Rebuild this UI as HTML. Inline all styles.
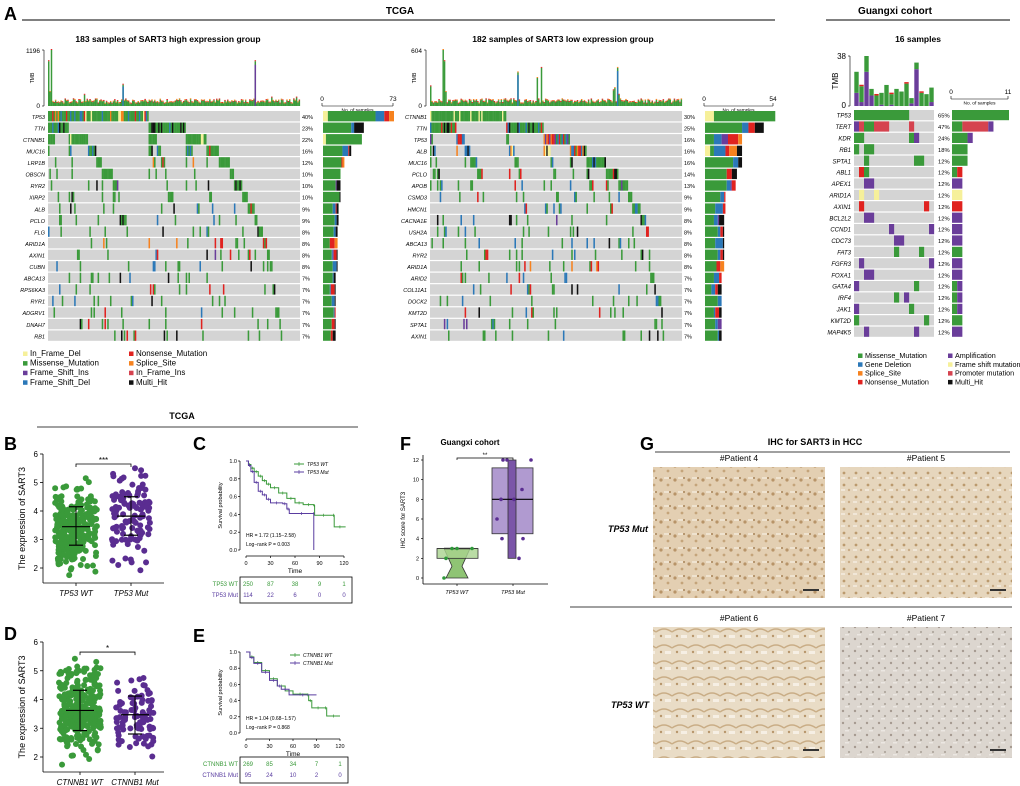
<!DOCTYPE html>
<html><head><meta charset="utf-8">
<style>
body{margin:0;background:#fff;}
svg{display:block;font-family:"Liberation Sans",sans-serif;}
</style></head>
<body>
<svg id="fig" width="1020" height="786" viewBox="0 0 1020 786" xmlns="http://www.w3.org/2000/svg">
<defs>
<pattern id="tis1" width="14" height="14" patternUnits="userSpaceOnUse"><rect width="14" height="14" fill="#e3cfb2"/><circle cx="3" cy="4" r="1.6" fill="#b89468"/><circle cx="10" cy="9" r="1.4" fill="#c4a47a"/><rect x="6" y="1" width="5" height="2" fill="#efe3d0"/><circle cx="12" cy="2" r="1" fill="#a88458"/></pattern>
<pattern id="tis2" width="12" height="12" patternUnits="userSpaceOnUse"><rect width="12" height="12" fill="#e6d6bd"/><circle cx="4" cy="5" r="1.4" fill="#bb9a6e"/><circle cx="9" cy="10" r="1.2" fill="#c9ab85"/><rect x="1" y="9" width="4" height="2" fill="#f1e7d8"/></pattern>
<pattern id="tis3" width="16" height="16" patternUnits="userSpaceOnUse"><rect width="16" height="16" fill="#e9dcc6"/><path d="M0 8 Q8 2 16 8" stroke="#c9ad86" stroke-width="1.5" fill="none"/><circle cx="5" cy="12" r="1.2" fill="#b7966c"/><rect x="9" y="11" width="6" height="3" fill="#f6efe4"/></pattern>
<pattern id="tis4" width="12" height="12" patternUnits="userSpaceOnUse"><rect width="12" height="12" fill="#dcd6cf"/><circle cx="3" cy="3" r="1.2" fill="#a59a90"/><circle cx="9" cy="8" r="1.1" fill="#b0a79e"/><rect x="5" y="10" width="4" height="1.5" fill="#ebe7e2"/></pattern>
</defs>
</svg>
<script>
// ---------------- DATA ----------------
const p1Genes=["TP53","TTN","CTNNB1","MUC16","LRP1B","OBSCN","RYR2","XIRP2","ALB","PCLO","FLG","ARID1A","AXIN1","CUBN","ABCA13","RPS6KA3","RYR1","ADGRV1","DNAH7","RB1"];
const p1Pct=[40,23,22,16,12,10,10,10,9,9,8,8,8,8,7,7,7,7,7,7];
const p1Mix=["yggggggggggggggbbrrog","ggggggggggggkkb","gggggggggggggggy","ggggggggkbr","gggggggggro","gggggggggk","ggggggggkp","gggggggggk","ggggggbkr","gggggggkb","gggggggkbr","ggggbrro","ggggrbkp","ggggggbk","gggggkbr","ggggrrbk","gggggbk","ggggggbr","gggggkr","ggggrrkb"];
const p1Spikes=[[0,0.8,"g"],[1,0.25,"g"],[2,1.0,"g"],[26,0.2,"g"],[54,0.38,"b"],[150,0.8,"p"],[162,0.15,"g"],[180,0.15,"g"]];
const p2Genes=["CTNNB1","TTN","TP53","ALB","MUC16","PCLO","APOB","CSMD3","HMCN1","CACNA1E","USH2A","ABCA13","RYR2","ARID1A","ARID2","COL11A1","DOCK2","KMT2D","SPTA1","AXIN1"];
const p2Pct=[30,25,16,16,16,14,13,9,9,8,8,8,8,8,7,7,7,7,7,7];
const p2Mix=["ggggggggggggggggggggy","gggggggggggbrkk","gggbboorrp","gbbboorykk","gggggggggbrk","gggggrkk","gggbbrpp","ggggggbkr","gggggbbr","ggggkbpr","gggggbkr","ggggbbk","gggggrkb","ggggbrro","gggrrbk","ggggbkr","gggggbk","ggggbkr","gggggbp","ggggrbk"];
const p2Spikes=[[0,0.35,"g"],[9,1.0,"g"],[10,0.8,"g"],[11,0.25,"g"],[63,0.6,"b"],[77,0.5,"g"],[80,0.68,"g"],[132,0.28,"g"],[133,0.32,"g"],[135,0.68,"b"],[136,0.2,"g"]];
const gGenes=["TP53","TERT","KDR","RB1","SPTA1","ABL1","APEX1","ARID1A","AXIN1","BCL2L2","CCND1","CDC73","FAT3","FGFR3","FOXA1","GATA4","IRF4","JAK1","KMT2D","MAP4K5"];
const gPct=[65,47,24,18,12,12,12,12,12,12,12,12,12,12,12,12,12,12,12,12];
const gCells=["ggggggggggg.....","pPggPPP....P....","gg.........gp...","g.gg............","..g.........gg..",".rg.............","..pp............",".y..y...........",".r............r.","..pp............",".......p.......p","........pp......","........g....g..",".p.............p","..pp............","p...........g...","........g.p.....","p..........g....","g.............g.","..p.........p..."];
const gTmbPurple=[10,3,26,8,0,1,0,1,0,0,0,2,28,0,0,3];
const gTmbGreen=[16,12,12,5,8,9,16,8,13,11,17,4,5,10,9,11];
const bWT={n:250,mean:3.45,sd:0.62,min:1.75,max:5.15,err:[2.8,4.15]};
const bMut={n:114,mean:3.82,sd:0.68,min:1.7,max:5.5,err:[3.15,4.5]};
const dWT={n:269,mean:3.62,sd:0.68,min:1.7,max:5.5,err:[2.92,4.32]};
const dMut={n:95,mean:3.47,sd:0.62,min:1.75,max:4.75,err:[2.8,4.12]};
const kmC_WT=[[0,1],[3,0.96],[6,0.92],[10,0.88],[15,0.83],[20,0.78],[25,0.74],[30,0.7],[40,0.64],[50,0.58],[60,0.53],[70,0.51],[83,0.5],[84,0.39],[106,0.39],[108,0.26],[122,0.26]];
const kmC_Mut=[[0,1],[3,0.95],[6,0.88],[10,0.76],[15,0.66],[20,0.62],[25,0.57],[30,0.53],[45,0.52],[50,0.46],[53,0.41],[83,0.41],[83,0]];
const kmE_WT=[[0,1],[5,0.94],[10,0.87],[20,0.77],[30,0.67],[40,0.58],[50,0.52],[60,0.48],[78,0.47],[80,0.4],[84,0.31],[100,0.31],[103,0.21],[120,0.21]];
const kmE_Mut=[[0,1],[5,0.93],[10,0.86],[20,0.75],[30,0.65],[40,0.58],[45,0.54],[55,0.47],[90,0.47]];
const riskC=[["TP53 WT",[250,87,38,9,1]],["TP53 Mut",[114,22,6,0,0]]];
const riskE=[["CTNNB1 WT",[269,85,34,7,1]],["CTNNB1 Mut",[95,24,10,2,0]]];
const fWT=[0,2,3,3,3];
const fMut=[12,12,12,9,8,8,6,4,4,2];

// ---------------- HELPERS ----------------
const NS="http://www.w3.org/2000/svg";
const svg=document.getElementById("fig");
function el(tag,attrs,parent,txt){const e=document.createElementNS(NS,tag);for(const k in attrs)e.setAttribute(k,attrs[k]);if(txt!==undefined)e.textContent=txt;(parent||svg).appendChild(e);return e;}
function grp(name){const g=el("g",{});return g;}
const COL={g:"#3a9a3a",b:"#2b78b8",r:"#e0221f",o:"#f6821f",k:"#111",p:"#6a3d9a",y:"#f6f09a",P:"#d5434f"};
function hash(a,b){let h=(a*374761393+b*668265263)|0;h=(h^(h>>>13))*1274126177|0;h^=h>>>16;return ((h>>>0)%10000)/10000;}
function text(p,x,y,s,opt){const e=el("text",Object.assign({x:x,y:y,"font-size":opt&&opt.fs||8,fill:opt&&opt.fill||"#000"},opt&&opt.a||{}),p,s);return e;}

// ---------------- HEADERS ----------------
const hdr=grp("panel-a-header");
text(hdr,4,20,"A",{fs:18,a:{"font-weight":"bold"}});
text(hdr,400,14,"TCGA",{fs:10,a:{"font-weight":"bold","text-anchor":"middle"}});
el("line",{x1:22,y1:20,x2:775,y2:20,stroke:"#000","stroke-width":1},hdr);
text(hdr,895,14,"Guangxi cohort",{fs:10,a:{"font-weight":"bold","text-anchor":"middle"}});
el("line",{x1:826,y1:20,x2:1010,y2:20,stroke:"#000","stroke-width":1},hdr);

// ---------------- ONCOPLOTS ----------------
function onco(cfg){
  const g=grp(cfg.name);
  text(g,cfg.tx,42,cfg.title,{fs:8.5,a:{"font-weight":"bold","text-anchor":"middle"}});
  const n=cfg.N,w=(cfg.x1-cfg.x0)/n;
  el("line",{x1:cfg.x0-4,y1:cfg.ty0,x2:cfg.x0-4,y2:cfg.ty1,stroke:"#000","stroke-width":0.6},g);
  el("line",{x1:cfg.x0-6,y1:cfg.ty0,x2:cfg.x0-4,y2:cfg.ty0,stroke:"#000","stroke-width":0.6},g);
  el("line",{x1:cfg.x0-6,y1:cfg.ty1,x2:cfg.x0-4,y2:cfg.ty1,stroke:"#000","stroke-width":0.6},g);
  text(g,cfg.x0-8,cfg.ty0+3,cfg.tmbMax,{fs:cfg.tfs||6.5,a:{"text-anchor":"end"}});
  text(g,cfg.x0-8,cfg.ty1+2,"0",{fs:cfg.tfs||6.5,a:{"text-anchor":"end"}});
  text(g,0,0,"TMB",{fs:cfg.tfs?8:5,a:{"text-anchor":"middle",transform:`translate(${cfg.x0-(cfg.tfs?16:14)},${(cfg.ty0+cfg.ty1)/2}) rotate(-90)`}});
  const H=cfg.ty1-cfg.ty0;
  if(cfg.tmb){
    for(let i=0;i<n;i++){
      let y=cfg.ty1;
      [["p",cfg.tmb.p[i]],["g",cfg.tmb.g[i]]].forEach(([c,v])=>{const h=v/cfg.tmbMax*H;if(h>0){el("rect",{x:cfg.x0+i*w+0.3,y:y-h,width:w-0.6,height:h,fill:COL[c]},g);y-=h;}});
      if(i%3==1)el("rect",{x:cfg.x0+i*w+0.3,y:y-1.5,width:w-0.6,height:1.5,fill:COL.r},g);
    }
  } else {
    const sp={};cfg.spikes.forEach(s=>sp[s[0]]=s);
    for(let i=0;i<n;i++){
      let v=0.04+0.08*hash(i,cfg.seed),c="g";
      if(sp[i]){v=sp[i][1];c=sp[i][2];}
      const h=v*H;
      el("rect",{x:cfg.x0+i*w,y:cfg.ty1-h,width:w+0.1,height:h,fill:COL.g},g);
      if(c!="g")el("rect",{x:cfg.x0+i*w,y:cfg.ty1-h*0.92,width:w+0.1,height:h*0.92,fill:COL[c]},g);
      el("rect",{x:cfg.x0+i*w,y:cfg.ty1-h-1,width:w+0.1,height:1,fill:i%2?COL.o:COL.r},g);
    }
  }
  el("line",{x1:cfg.b0,y1:cfg.by,x2:cfg.b1,y2:cfg.by,stroke:"#000","stroke-width":0.6},g);
  el("line",{x1:cfg.b0,y1:cfg.by,x2:cfg.b0,y2:cfg.by-3,stroke:"#000","stroke-width":0.6},g);
  el("line",{x1:cfg.b1,y1:cfg.by,x2:cfg.b1,y2:cfg.by-3,stroke:"#000","stroke-width":0.6},g);
  text(g,cfg.b0,cfg.by-5,"0",{fs:6.5,a:{"text-anchor":"middle"}});
  text(g,cfg.b1,cfg.by-5,cfg.bmax,{fs:6.5,a:{"text-anchor":"middle"}});
  text(g,(cfg.b0+cfg.b1)/2,cfg.by+5.5,"No. of samples",{fs:4.8,a:{"text-anchor":"middle"}});
  const bs=(cfg.b1-cfg.b0)/cfg.bmax;
  // build membership and waterfall order
  let rowsCells=[];
  if(cfg.cells){
    rowsCells=cfg.genes.map((gn,ri)=>{const c=[];for(let i=0;i<n;i++){const ch=cfg.cells[ri][i];if(ch!=".")c.push([i,ch]);}return c;});
  } else {
    const M=cfg.genes.map((gn,ri)=>{
      const k=Math.round(cfg.pct[ri]/100*n);
      const sc=[];for(let i=0;i<n;i++)sc.push([hash(i*7+ri*3,ri*13+cfg.seed),i]);
      sc.sort((a,b)=>a[0]-b[0]);
      const s=new Set();for(let j=0;j<k;j++)s.add(sc[j][1]);return s;
    });
    const cols=[];for(let i=0;i<n;i++)cols.push(i);
    cols.sort((a,b)=>{for(let r=0;r<M.length;r++){const x=M[r].has(a),y=M[r].has(b);if(x!==y)return x?-1:1;}return a-b;});
    rowsCells=cfg.genes.map((gn,ri)=>{const c=[];let j=0;cols.forEach((s,pos)=>{if(M[ri].has(s)){c.push([pos,cfg.mix[ri][Math.floor(hash(s,ri+5)*cfg.mix[ri].length)]]);j++;}});return c;});
  }
  cfg.genes.forEach((gn,ri)=>{
    const y=cfg.gy0+ri*cfg.rp,rh=cfg.rp-1.2;
    const row=grp("oncoplot-row-"+gn.toLowerCase());g.appendChild(row);
    el("rect",{x:cfg.x0,y:y,width:cfg.x1-cfg.x0,height:rh,fill:"#d4d4d4"},row);
    text(row,cfg.x0-3,y+rh-2.5,gn,{fs:cfg.gfs||5.5,a:{"text-anchor":"end","font-style":"italic"}});
    text(row,cfg.x1+(cfg.pdx||2),y+rh-2.5,cfg.pct[ri]+"%",{fs:cfg.gfs?5.8:5.5});
    const cells=rowsCells[ri];
    cells.forEach(([i,ch])=>{el("rect",{x:cfg.x0+i*w,y:y,width:w+0.15,height:rh,fill:COL[ch]},row);});
    const counts={};cells.forEach(([i,ch])=>counts[ch]=(counts[ch]||0)+1);
    let bx=cfg.b0+1;
    ["y","g","b","P","p","r","o","k"].forEach(ch=>{if(counts[ch]){const bw=counts[ch]*bs;el("rect",{x:bx,y:y,width:bw,height:rh,fill:COL[ch]},row);bx+=bw;}});
  });
  return g;
}
onco({name:"oncoplot-high-expression",title:"183 samples of SART3 high expression group",tx:168,N:183,x0:48,x1:300,ty0:50,ty1:106,tmbMax:"1196",spikes:p1Spikes,seed:3,
  b0:322,b1:393,by:106,bmax:"73",genes:p1Genes,pct:p1Pct,mix:p1Mix,gy0:111,rp:11.55});
onco({name:"oncoplot-low-expression",title:"182 samples of SART3 low expression group",tx:563,N:182,x0:430,x1:682,ty0:50,ty1:106,tmbMax:"604",spikes:p2Spikes,seed:9,
  b0:704,b1:773,by:106,bmax:"54",genes:p2Genes,pct:p2Pct,mix:p2Mix,gy0:111,rp:11.55});
onco({name:"oncoplot-guangxi",title:"16 samples",tx:918,N:16,x0:854,x1:934,ty0:56,ty1:106,tmbMax:"38",tfs:8,tmb:{p:gTmbPurple,g:gTmbGreen},
  b0:951,b1:1008,by:99,bmax:"11",genes:gGenes,pct:gPct,cells:gCells,gy0:110,rp:11.4,gfs:6,pdx:4});
svg.querySelectorAll("text").forEach(t=>{if(t.textContent=="16 samples"){t.setAttribute("x",918);t.setAttribute("y",42);}});

function legend(name,items,x0,y0,dx,dy,fs){
  const g=grp(name);
  items.forEach((it,i)=>{const x=x0+Math.floor(i/4)*dx,y=y0+(i%4)*dy;
    const e=grp("legend-entry-"+it[0].toLowerCase().replace(/[^a-z]+/g,"-"));g.appendChild(e);
    el("rect",{x:x,y:y-4.5,width:4.5,height:4.5,fill:it[1]},e);text(e,x+7,y,it[0],{fs:fs});});
}
legend("legend-tcga",[["In_Frame_Del",COL.y],["Missense_Mutation",COL.g],["Frame_Shift_Ins",COL.p],["Frame_Shift_Del",COL.b],["Nonsense_Mutation",COL.r],["Splice_Site",COL.o],["In_Frame_Ins","#d5434f"],["Multi_Hit",COL.k]],23,356,106,9.6,8);
legend("legend-guangxi",[["Missense_Mutation",COL.g],["Gene Deletion",COL.b],["Splice_Site",COL.o],["Nonsense_Mutation",COL.r],["Amplification",COL.p],["Frame shift mutation",COL.y],["Promoter mutation",COL.P],["Multi_Hit",COL.k]],858,358,90,8.8,7.2);

// ---------------- B / D scatter ----------------
const tc=grp("tcga-lower-header");
text(tc,182,419,"TCGA",{fs:9,a:{"font-weight":"bold","text-anchor":"middle"}});
el("line",{x1:37,y1:427,x2:358,y2:427,stroke:"#000","stroke-width":0.8},tc);
function scatter(name,label,ly,y6,y2,yAxBot,xs,groups,cols,cats,sig){
  const g=grp(name);
  text(g,4,ly,label,{fs:18,a:{"font-weight":"bold"}});
  const ax=43;const ys=v=>y2-(v-2)*(y2-y6)/4;
  el("line",{x1:ax,y1:y6,x2:ax,y2:yAxBot,stroke:"#000","stroke-width":0.8},g);
  el("line",{x1:ax,y1:yAxBot,x2:164,y2:yAxBot,stroke:"#000","stroke-width":0.8},g);
  [2,3,4,5,6].forEach(v=>{el("line",{x1:ax-3,y1:ys(v),x2:ax,y2:ys(v),stroke:"#000","stroke-width":0.8},g);text(g,ax-5,ys(v)+3,String(v),{fs:8,a:{"text-anchor":"end"}});});
  text(g,0,0,"The expression of SART3",{fs:9,a:{"text-anchor":"middle",transform:`translate(25,${(y6+yAxBot)/2}) rotate(-90)`}});
  groups.forEach((G,gi)=>{
    const cx=xs[gi];
    el("line",{x1:cx,y1:yAxBot,x2:cx,y2:yAxBot+3,stroke:"#000","stroke-width":0.8},g);
    text(g,cx,yAxBot+13,cats[gi],{fs:8,a:{"text-anchor":"middle","font-style":"italic"}});
    for(let i=0;i<G.n;i++){
      let z=(hash(i,gi*31+ly)+hash(i+500,gi*17+ly)+hash(i+900,gi*7+ly)-1.5)*2.2;
      let v=Math.max(G.min,Math.min(G.max,G.mean+z*G.sd));
      const jx=(hash(i+77,gi+ly)-0.5)*(G.n>200?42:38);
      el("circle",{cx:cx+jx,cy:ys(v),r:3,fill:cols[gi]},g);
    }
    el("line",{x1:cx,y1:ys(G.err[0]),x2:cx,y2:ys(G.err[1]),stroke:"#000","stroke-width":1},g);
    [[G.err[0],7],[G.err[1],7],[G.mean,14]].forEach(([v,hw])=>el("line",{x1:cx-hw,y1:ys(v),x2:cx+hw,y2:ys(v),stroke:"#000","stroke-width":1.2},g));
  });
  const sy=ys(5.65);
  el("path",{d:`M${xs[0]} ${sy+3}V${sy}H${xs[1]}V${sy+3}`,stroke:"#000","stroke-width":0.8,fill:"none"},g);
  text(g,(xs[0]+xs[1])/2,sy-1,sig,{fs:8,a:{"text-anchor":"middle"}});
}
scatter("panel-b-tp53-expression","B",450,454,568,583,[76,131],[bWT,bMut],["#3a9a3a","#5a2d91"],["TP53 WT","TP53 Mut"],"***");
scatter("panel-d-ctnnb1-expression","D",640,642,757,772,[80,135],[dWT,dMut],["#3a9a3a","#5a2d91"],["CTNNB1 WT","CTNNB1 Mut"],"*");

// ---------------- C / E KM ----------------
function km(name,label,ly,x0,x1,y1,y0,curves,names,hr,risk,boxY){
  const g=grp(name);
  text(g,193,ly,label,{fs:18,a:{"font-weight":"bold"}});
  const xs=t=>x0+t/120*(x1-x0),ys=s=>y0-s*(y0-y1);
  const ax=x0-6;
  el("line",{x1:ax,y1:y1,x2:ax,y2:y0,stroke:"#000","stroke-width":0.7},g);
  el("line",{x1:x0,y1:y0+6,x2:x1,y2:y0+6,stroke:"#000","stroke-width":0.7},g);
  [0,0.2,0.4,0.6,0.8,1.0].forEach(v=>{el("line",{x1:ax-2,y1:ys(v),x2:ax,y2:ys(v),stroke:"#000","stroke-width":0.7},g);text(g,ax-3,ys(v)+2,v.toFixed(1),{fs:5.5,a:{"text-anchor":"end"}});});
  [0,30,60,90,120].forEach(v=>{el("line",{x1:xs(v),y1:y0+6,x2:xs(v),y2:y0+8,stroke:"#000","stroke-width":0.7},g);text(g,xs(v),y0+15,String(v),{fs:5.5,a:{"text-anchor":"middle"}});});
  text(g,(x0+x1)/2,y0+23,"Time",{fs:6.5,a:{"text-anchor":"middle"}});
  text(g,0,0,"Survival probability",{fs:5.5,a:{"text-anchor":"middle",transform:`translate(${ax-18},${(y0+y1)/2}) rotate(-90)`}});
  const cols=["#3a9a3a","#5a3da0"];
  curves.forEach((c,ci)=>{
    let d=`M${xs(c[0][0])} ${ys(c[0][1])}`;
    for(let i=1;i<c.length;i++){d+=`H${xs(c[i][0])}V${ys(c[i][1])}`;}
    el("path",{d:d,stroke:cols[ci],"stroke-width":1,fill:"none"},g);
    for(let i=1;i<c.length-1;i++){const t=(c[i][0]+c[i+1][0])/2;el("line",{x1:xs(t),y1:ys(c[i][1])-1.5,x2:xs(t),y2:ys(c[i][1])+1.5,stroke:cols[ci],"stroke-width":0.7},g);}
    const ly2=y1+3+ci*8;
    el("line",{x1:x1-50,y1:ly2,x2:x1-40,y2:ly2,stroke:cols[ci],"stroke-width":1},g);
    el("line",{x1:x1-45,y1:ly2-2,x2:x1-45,y2:ly2+2,stroke:cols[ci],"stroke-width":0.7},g);
    text(g,x1-37,ly2+2,names[ci],{fs:5,a:{"font-style":"italic"}});
  });
  text(g,x0,y0-13,hr[0],{fs:5});text(g,x0,y0-4,hr[1],{fs:5});
  el("rect",{x:x0-6,y:boxY,width:x1-x0+14,height:26,fill:"none",stroke:"#000","stroke-width":0.8},g);
  risk.forEach((r,ri)=>{const y=boxY+9+ri*11;
    text(g,x0-8,y,r[0],{fs:6,fill:cols[ri],a:{"text-anchor":"end"}});
    r[1].forEach((v,vi)=>text(g,xs(vi*30)+(vi==0?2:0),y,String(v),{fs:6,fill:cols[ri],a:{"text-anchor":"middle"}}));
  });
}
km("panel-c-km-tp53","C",450,246,344,461,550,[kmC_WT,kmC_Mut],["TP53 WT","TP53 Mut"],["HR = 1.72 (1.15−2.58)","Log−rank P = 0.003"],riskC,577);
km("panel-e-km-ctnnb1","E",642,246,340,652,733,[kmE_WT,kmE_Mut],["CTNNB1 WT","CTNNB1 Mut"],["HR = 1.04 (0.68−1.57)","Log−rank P = 0.868"],riskE,757);

// ---------------- F box ----------------
(function(){
  const g=grp("panel-f-ihc-boxplot");
  text(g,400,450,"F",{fs:18,a:{"font-weight":"bold"}});
  text(g,470,445,"Guangxi cohort",{fs:8,a:{"font-weight":"bold","text-anchor":"middle"}});
  const ys=v=>578-v*(578-460)/12,ax=423;
  el("line",{x1:ax,y1:455,x2:ax,y2:584,stroke:"#000","stroke-width":0.8},g);
  el("line",{x1:ax,y1:584,x2:548,y2:584,stroke:"#000","stroke-width":0.8},g);
  [0,2,4,6,8,10,12].forEach(v=>{el("line",{x1:ax-2,y1:ys(v),x2:ax,y2:ys(v),stroke:"#000","stroke-width":0.7},g);text(g,ax-4,ys(v)+2,String(v),{fs:5.5,a:{"text-anchor":"end"}});});
  text(g,0,0,"IHC score for SART3",{fs:6,a:{"text-anchor":"middle",transform:`translate(405,520) rotate(-90)`}});
  [[457,"TP53 WT"],[513,"TP53 Mut"]].forEach(([x,s])=>{el("line",{x1:x,y1:584,x2:x,y2:586,stroke:"#000","stroke-width":0.7},g);text(g,x,594,s,{fs:5.5,a:{"text-anchor":"middle","font-style":"italic"}});});
  const sorted=a=>a.slice().sort((p,q)=>p-q);
  const q=(a,p)=>{const s=sorted(a),i=(s.length-1)*p,lo=Math.floor(i);return s[lo]+(s[Math.ceil(i)]-s[lo])*(i-lo);};
  const wq1=q(fWT,0.25),wq3=q(fWT,0.75),wm=q(fWT,0.5);
  el("path",{d:`M444 ${ys(wq3)}H470L462 ${ys(1.2)}L468 ${ys(0)}H446L452 ${ys(1.2)}Z`,fill:"#8fc474",stroke:"#333","stroke-width":0.8},g);
  el("rect",{x:437,y:ys(wq3),width:41,height:ys(wq1)-ys(wq3),fill:"#a9d38f","fill-opacity":0.8,stroke:"#333","stroke-width":0.8},g);
  el("line",{x1:437,y1:ys(wm),x2:478,y2:ys(wm),stroke:"#333","stroke-width":0.8},g);
  el("line",{x1:444,y1:ys(3),x2:470,y2:ys(3),stroke:"#333","stroke-width":1.5},g);
  const mq1=4.5,mq3=11.2,mm=q(fMut,0.5);
  el("rect",{x:492,y:ys(mq3),width:41,height:ys(mq1)-ys(mq3),fill:"#b09ad0",stroke:"#333","stroke-width":0.8},g);
  el("rect",{x:508,y:ys(Math.max(...fMut)),width:8,height:ys(Math.min(...fMut))-ys(Math.max(...fMut)),fill:"#7b55a8",stroke:"#333","stroke-width":0.8},g);
  el("line",{x1:492,y1:ys(mm),x2:533,y2:ys(mm),stroke:"#000","stroke-width":1.2},g);
  const wx=[444,446,452,457,472],mx=[503,507,531,522,501,514,497,502,523,519];
  fWT.forEach((v,i)=>el("circle",{cx:wx[i],cy:ys(v),r:1.8,fill:"#2f9a3a"},g));
  fMut.forEach((v,i)=>el("circle",{cx:mx[i],cy:ys(v),r:1.8,fill:"#5a2d91"},g));
  el("path",{d:`M457 ${ys(12.2)+2}V${ys(12.2)}H513V${ys(12.2)+2}`,stroke:"#000","stroke-width":0.7,fill:"none"},g);
  text(g,485,ys(12.2)-1,"**",{fs:6,a:{"text-anchor":"middle"}});
})();

// ---------------- G IHC ----------------
(function(){
  const g=grp("panel-g-ihc-images");
  text(g,640,450,"G",{fs:18,a:{"font-weight":"bold"}});
  text(g,815,445,"IHC for SART3 in HCC",{fs:9,a:{"font-weight":"bold","text-anchor":"middle"}});
  el("line",{x1:655,y1:452,x2:1010,y2:452,stroke:"#000","stroke-width":0.8},g);
  el("line",{x1:570,y1:607,x2:1012,y2:607,stroke:"#000","stroke-width":0.8},g);
  text(g,628,532,"TP53 Mut",{fs:9,a:{"font-weight":"bold","font-style":"italic","text-anchor":"middle"}});
  text(g,630,708,"TP53 WT",{fs:9,a:{"font-weight":"bold","font-style":"italic","text-anchor":"middle"}});
  const imgs=[["#Patient 4",653,467,"tis1"],["#Patient 5",840,467,"tis2"],["#Patient 6",653,627,"tis3"],["#Patient 7",840,627,"tis4"]];
  imgs.forEach(([t,x,y,p],i)=>{
    const e=grp("ihc-image-patient-"+(i+4));g.appendChild(e);
    text(e,x+86,y-6,t,{fs:8.5,a:{"text-anchor":"middle"}});
    el("rect",{x:x,y:y,width:172,height:131,fill:`url(#${p})`},e);
    el("rect",{x:x+150,y:y+122,width:16,height:2,fill:"#333"},e);
  });
})();
</script>
</body></html>
